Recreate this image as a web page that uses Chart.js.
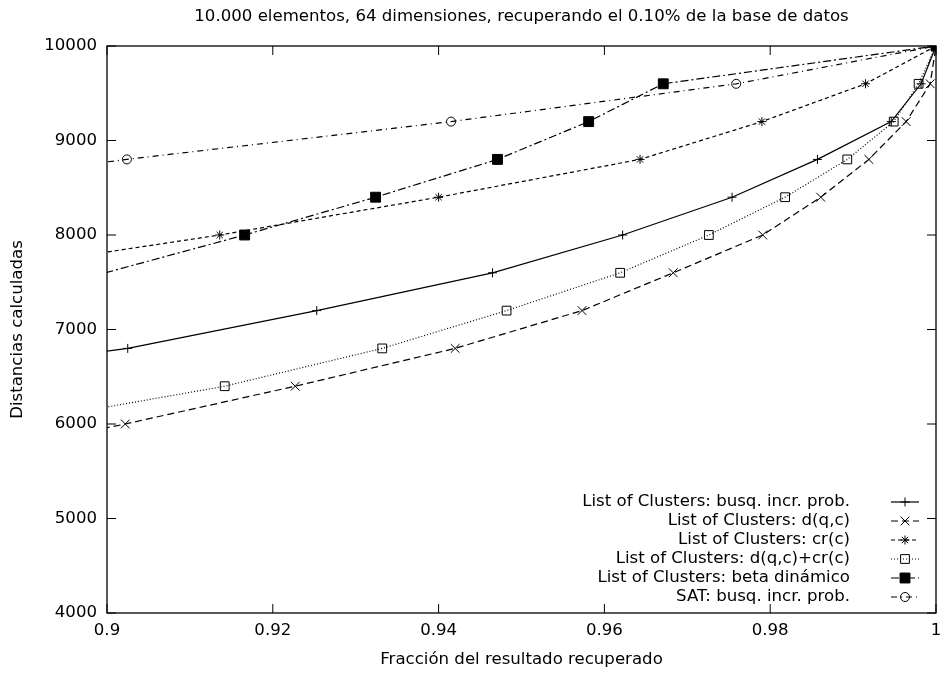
<!DOCTYPE html>
<html>
<head>
<meta charset="utf-8">
<script src="https://cdn.jsdelivr.net/npm/chart.js@4.4.0/dist/chart.umd.min.js"></script>
<style>
  html, body { margin: 0; padding: 0; background: #fff; }
  #wrap { width: 944px; height: 673px; }
</style>
</head>
<body>
<div id="wrap"><canvas id="distChart" width="944" height="673"></canvas></div>
<script>
const xTicks = [0.9, 0.92, 0.94, 0.96, 0.98, 1];
const xTickLabels = ["0.9", "0.92", "0.94", "0.96", "0.98", "1"];
const yTicks = [4000, 5000, 6000, 7000, 8000, 9000, 10000];
const yTickLabels = ["4000", "5000", "6000", "7000", "8000", "9000", "10000"];

// List of Clusters: busq. incr. prob.
const fracBusq = [0.867, 0.9025, 0.9253, 0.9465, 0.9622, 0.9754, 0.9857, 0.9946, 0.9982, 1];
const distBusq = [6400, 6800, 7200, 7600, 8000, 8400, 8800, 9200, 9600, 10000];
// List of Clusters: d(q,c)
const fracDqc = [0.880, 0.9022, 0.9227, 0.9420, 0.9573, 0.9683, 0.9791, 0.9861, 0.9919, 0.9964, 0.9993, 1];
const distDqc = [5600, 6000, 6400, 6800, 7200, 7600, 8000, 8400, 8800, 9200, 9600, 10000];
// List of Clusters: cr(c)
const fracCr = [0.8834, 0.9136, 0.9400, 0.9643, 0.9790, 0.9915, 1];
const distCr = [7600, 8000, 8400, 8800, 9200, 9600, 10000];
// List of Clusters: d(q,c)+cr(c)
const fracDqcCr = [0.8884, 0.9142, 0.9332, 0.9482, 0.9619, 0.9726, 0.9818, 0.9893, 0.9949, 0.9979, 1];
const distDqcCr = [6000, 6400, 6800, 7200, 7600, 8000, 8400, 8800, 9200, 9600, 10000];
// List of Clusters: beta dinámico
const fracBeta = [0.8998, 0.9166, 0.9324, 0.9471, 0.9581, 0.9671, 1];
const distBeta = [7600, 8000, 8400, 8800, 9200, 9600, 10000];
// SAT: busq. incr. prob.
const fracSat = [0.866, 0.9024, 0.9415, 0.9759, 1];
const distSat = [8400, 8800, 9200, 9600, 10000];

const X_MIN = 0.9, X_MAX = 1, Y_MIN = 4000, Y_MAX = 10000;
const font = { family: "'DejaVu Sans', sans-serif", size: 16.6 };

function series(label, frac, dist, dash, pointStyle, radius, fill) {
  return {
    label: label,
    data: frac.map((x, i) => ({ x: x, y: dist[i] })),
    borderColor: "#000",
    borderWidth: 1.2,
    borderDash: dash,
    pointStyle: pointStyle,
    // points left of the x range are only there to carry the line to the border
    pointRadius: ctx => (ctx.raw && ctx.raw.x < X_MIN) ? 0 : radius,
    pointBackgroundColor: fill,
    pointBorderColor: "#000",
    pointBorderWidth: 1,
    tension: 0,
    fill: false
  };
}

const datasets = [
  series("List of Clusters: busq. incr. prob.", fracBusq, distBusq, [], "cross", 4.5, "rgba(0,0,0,0)"),
  series("List of Clusters: d(q,c)", fracDqc, distDqc, [7, 4], "crossRot", 6.2, "rgba(0,0,0,0)"),
  series("List of Clusters: cr(c)", fracCr, distCr, [4, 3], "star", 4.5, "rgba(0,0,0,0)"),
  series("List of Clusters: d(q,c)+cr(c)", fracDqcCr, distDqcCr, [1, 2], "rect", 6.2, "rgba(0,0,0,0)"),
  series("List of Clusters: beta dinámico", fracBeta, distBeta, [8, 3, 2, 3], "rect", 7, "#000"),
  series("SAT: busq. incr. prob.", fracSat, distSat, [6, 4, 1, 4], "circle", 4.5, "rgba(0,0,0,0)")
];

function drawMarker(ctx, ds, x, y) {
  const r = typeof ds.pointRadius === "function" ? ds.pointRadius({ raw: { x: 1 } }) : ds.pointRadius;
  ctx.setLineDash([]);
  ctx.lineWidth = 1;
  ctx.strokeStyle = "#000";
  ctx.fillStyle = ds.pointBackgroundColor;
  Chart.helpers.drawPoint(ctx, { pointStyle: ds.pointStyle, radius: r, rotation: 0, borderWidth: 1 }, x, y);
}

const gnuplotFrame = {
  id: "gnuplotFrame",
  afterDatasetsDraw(chart) {
    const { ctx, chartArea: a, scales } = chart;
    ctx.save();
    ctx.strokeStyle = "#000";
    ctx.lineWidth = 1.3;
    ctx.setLineDash([]);
    ctx.strokeRect(a.left, a.top, a.right - a.left, a.bottom - a.top);
    const tick = 9;
    ctx.lineWidth = 1;
    ctx.beginPath();
    xTicks.forEach(v => {
      const px = scales.x.getPixelForValue(v);
      ctx.moveTo(px, a.bottom); ctx.lineTo(px, a.bottom - tick);
      ctx.moveTo(px, a.top); ctx.lineTo(px, a.top + tick);
    });
    yTicks.forEach(v => {
      const py = scales.y.getPixelForValue(v);
      ctx.moveTo(a.left, py); ctx.lineTo(a.left + tick, py);
      ctx.moveTo(a.right, py); ctx.lineTo(a.right - tick, py);
    });
    ctx.stroke();

    // key, bottom right inside the plot
    ctx.font = font.size + "px " + font.family;
    ctx.textAlign = "right";
    ctx.textBaseline = "middle";
    chart.data.datasets.forEach((ds, i) => {
      const y = 502 + i * 19;
      ctx.fillStyle = "#000";
      ctx.fillText(ds.label, 850, y);
      ctx.strokeStyle = "#000";
      ctx.lineWidth = ds.borderWidth;
      ctx.setLineDash(ds.borderDash);
      ctx.beginPath();
      ctx.moveTo(891, y);
      ctx.lineTo(919, y);
      ctx.stroke();
      drawMarker(ctx, ds, 905, y);
    });

    // title over the plot area
    ctx.setLineDash([]);
    ctx.fillStyle = "#000";
    ctx.textAlign = "center";
    ctx.fillText("10.000 elementos, 64 dimensiones, recuperando el 0.10% de la base de datos",
      (a.left + a.right) / 2, 17);
    ctx.restore();
  }
};

new Chart(document.getElementById("distChart").getContext("2d"), {
  type: "line",
  data: { datasets: datasets },
  options: {
    responsive: false,
    animation: false,
    devicePixelRatio: 1,
    layout: { padding: { top: 46, right: 1, bottom: 0, left: 0 } },
    plugins: {
      legend: { display: false },
      title: { display: false },
      tooltip: { enabled: false }
    },
    scales: {
      x: {
        type: "linear",
        min: X_MIN,
        max: X_MAX,
        afterBuildTicks: s => { s.ticks = xTicks.map(v => ({ value: v })); },
        afterFit: s => { s.height = 60; s.paddingLeft = 0; s.paddingRight = 0; },
        grid: { display: false, drawTicks: false },
        border: { display: false },
        ticks: {
          color: "#000",
          font: font,
          padding: 8,
          maxRotation: 0,
          autoSkip: false,
          callback: (v, i) => xTickLabels[i]
        },
        title: {
          display: true,
          text: "Fracción del resultado recuperado",
          color: "#000",
          font: font,
          padding: { top: 0, bottom: 3 }
        }
      },
      y: {
        type: "linear",
        min: Y_MIN,
        max: Y_MAX,
        afterBuildTicks: s => { s.ticks = yTicks.map(v => ({ value: v })); },
        afterFit: s => { s.width = 107; s.paddingTop = 0; s.paddingBottom = 0; },
        grid: { display: false, drawTicks: false },
        border: { display: false },
        ticks: {
          color: "#000",
          font: font,
          padding: 10,
          autoSkip: false,
          callback: (v, i) => yTickLabels[i]
        },
        title: {
          display: true,
          text: "Distancias calculadas",
          color: "#000",
          font: font,
          padding: { top: 8, bottom: 0 }
        }
      }
    }
  },
  plugins: [gnuplotFrame]
});
</script>
</body>
</html>
